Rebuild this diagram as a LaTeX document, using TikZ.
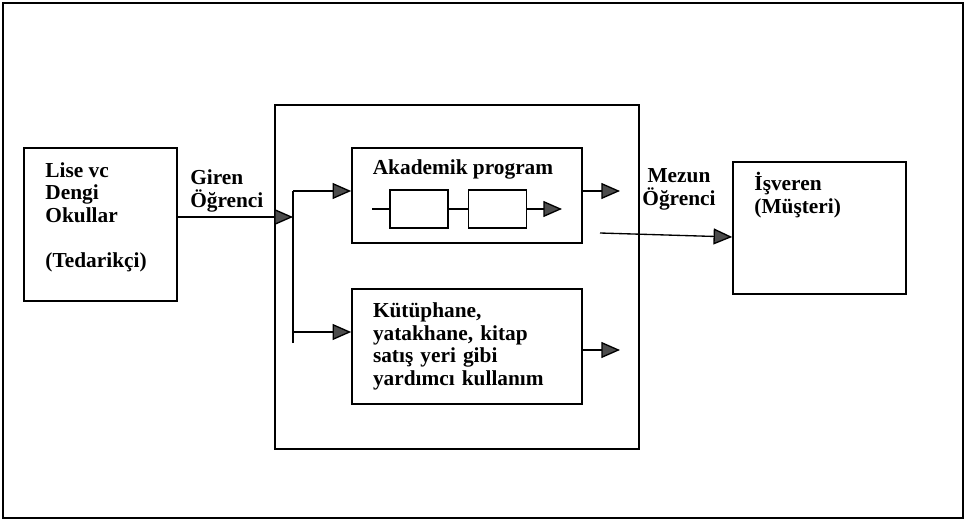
\documentclass[tikz,border=0pt]{standalone}
\usepackage{fontspec}
\setmainfont{Liberation Serif}
\usetikzlibrary{positioning,arrows.meta}

\begin{document}
\begin{tikzpicture}[
  x=0.75pt, y=-0.75pt,
  font=\bfseries\fontsize{16}{17}\selectfont,
  box/.style={draw, line width=1.2pt, inner sep=0pt},
  wh/.style 2 args={minimum width=#1*0.75pt, minimum height=#2*0.75pt},
  lbl/.style={align=left, inner sep=0pt},
  link/.style={line width=1pt},
  arr/.style={-{Triangle[length=14pt, width=12pt, fill=black!70]}, line width=1pt},
]

% ---------------------------------------------------------------- frame
\useasboundingbox (0,0) rectangle (965,521);
\draw[line width=1.2pt] (3,3) rectangle (963,518);

% ------------------------------------------------------------- supplier
\node[box, wh={153}{153}] (school) at (100.5,224.5) {};
\node[lbl, anchor=north west] (schooltxt)
  at ([shift={(22,15)}]school.north west)
  {Lise vc\\Dengi\\Okullar\\[17pt](Tedarikçi)};

\node[lbl, anchor=south west] (giren) at (190,212) {Giren\\Öğrenci};

% ----------------------------------------------------------- university
\node[box, wh={364}{344}] (univ) at (457,277) {};

\node[box, wh={230}{95}] (acad) at (467,195.5) {};
\node[lbl, below=9pt of acad.north, xshift=-3pt] (acadtxt) {Akademik program};
\node[box, wh={58}{38}] (stage1) at (419,209) {};
\node[box, wh={58}{38}, right=14.25pt of stage1] (stage2) {};

\node[box, wh={230}{115}, text width=141pt, align=left] (support) at (467,346.5)
  {Kütüphane,\\yatakhane, kitap\\satış yeri gibi\\yardımcı kullanım};

% ------------------------------------------------------------- employer
\node[box, wh={173}{132}] (employer) at (819.5,228) {};
\node[lbl, anchor=north west] (employertxt)
  at ([shift={(22,11)}]employer.north west) {İşveren\\(Müşteri)};

\node[align=center, inner sep=0pt, anchor=south] (mezun) at (679,210) {Mezun\\Öğrenci};

% ----------------------------------------------------------- coordinates
\coordinate (split)   at (293,217);
\coordinate (brtop)   at (293,191);
\coordinate (brlow)   at (293,332);
\coordinate (brbot)   at (293,343);
\coordinate (acadin)  at (372,209);
\coordinate (acadend) at (562,209);
\coordinate (acadout) at (620,191);
\coordinate (supout)  at (620,350);
\coordinate (gradbeg) at (600,233);
\coordinate (gradlvl) at (700,237);

% --------------------------------------------------------------- arrows
\draw[arr]  (school.east |- split) -- (split);
\draw[link] (brbot) -- (brtop);
\draw[arr]  (brtop) -- (acad.west |- brtop);
\draw[arr]  (brlow) -- (support.west |- brlow);

\draw[link] (acadin) -- (stage1);
\draw[link] (stage1) -- (stage2);
\draw[arr]  (stage2) -- (acadend);

\draw[arr] (acad.east |- acadout) -- (acadout);
\draw[arr] (support.east |- supout) -- (supout);
\draw[arr] (gradbeg) -- (employer.west |- gradlvl);

\end{tikzpicture}
\end{document}
